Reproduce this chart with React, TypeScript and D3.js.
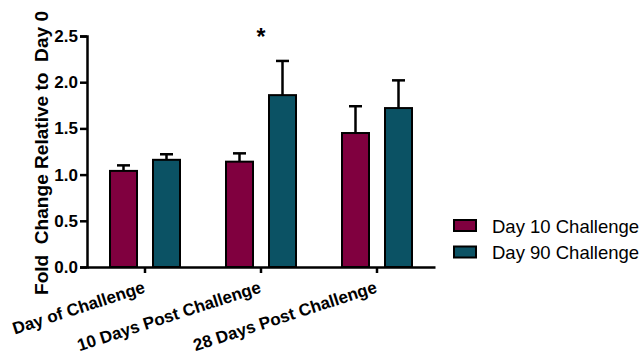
import { axisBottom, axisLeft, scaleBand, scaleLinear, select } from 'd3';
import { useEffect, useRef } from 'react';

const categories = ['Day of Challenge', '10 Days Post Challenge', '28 Days Post Challenge'];
const seriesNames = ['Day 10 Challenge', 'Day 90 Challenge'];
const day10Means = [1.04, 1.14, 1.45];
const day10Err = [0.06, 0.09, 0.29];
const day90Means = [1.16, 1.86, 1.72];
const day90Err = [0.06, 0.37, 0.3];
const yTicks = [0, 0.5, 1.0, 1.5, 2.0, 2.5];
const significant = [false, true, false];

const colors = ['#80003f', '#0b5264'];

function App(): JSX.Element {
  const svgRef = useRef<SVGSVGElement | null>(null);

  const width = 642;
  const height = 360;
  const margin = { top: 36, right: 207, bottom: 93, left: 87 };

  useEffect(() => {
    if (svgRef.current) svgRef.current.innerHTML = '';
    const svg = select(svgRef.current);
    const font = '"Liberation Sans", Arial, sans-serif';

    const x = scaleBand<string>()
      .domain(categories)
      .range([margin.left, width - margin.right]);
    const y = scaleLinear()
      .domain([0, 2.5])
      .range([height - margin.bottom, margin.top]);

    const barW = 27;
    const offsets = [-21.5, 21.5];
    const means = [day10Means, day90Means];
    const errs = [day10Err, day90Err];

    // bars + error bars
    for (let s = 0; s < 2; s++) {
      categories.forEach((c, i) => {
        const cx = (x(c) as number) + x.bandwidth() / 2 + offsets[s];
        const top = y(means[s][i]);
        const errTop = y(means[s][i] + errs[s][i]);
        svg
          .append('line')
          .attr('x1', cx)
          .attr('x2', cx)
          .attr('y1', top)
          .attr('y2', errTop)
          .attr('stroke', 'black')
          .attr('stroke-width', 2.5);
        svg
          .append('line')
          .attr('x1', cx - 6.5)
          .attr('x2', cx + 6.5)
          .attr('y1', errTop)
          .attr('y2', errTop)
          .attr('stroke', 'black')
          .attr('stroke-width', 2.5);
        svg
          .append('rect')
          .attr('x', cx - barW / 2)
          .attr('y', top)
          .attr('width', barW)
          .attr('height', y(0) - top)
          .attr('fill', colors[s])
          .attr('stroke', 'black')
          .attr('stroke-width', 2);
      });
    }

    // significance
    categories.forEach((c, i) => {
      if (!significant[i]) return;
      svg
        .append('text')
        .attr('x', (x(c) as number) + x.bandwidth() / 2)
        .attr('y', 45)
        .attr('text-anchor', 'middle')
        .attr('font-family', font)
        .attr('font-weight', 'bold')
        .attr('font-size', '23px')
        .text('*');
    });

    // y axis
    const gy = svg
      .append('g')
      .attr('transform', `translate(${margin.left},0)`)
      .call(
        axisLeft(y)
          .tickValues(yTicks)
          .tickSize(7)
          .tickPadding(2)
          .tickFormat((d) => Number(d).toFixed(1))
      );
    gy.select('.domain').attr('stroke-width', 2.5);
    gy.selectAll('.tick line').attr('stroke-width', 2.5);
    gy.selectAll('text')
      .attr('font-family', font)
      .attr('font-weight', 'bold')
      .attr('font-size', '17px')
      .attr('fill', 'black');

    // x axis
    const gx = svg
      .append('g')
      .attr('transform', `translate(0,${y(0)})`)
      .call(axisBottom(x).tickSize(6).tickSizeOuter(0));
    gx.select('.domain').attr('stroke-width', 2.5);
    gx.selectAll('.tick line').attr('stroke-width', 2.5);
    gx.selectAll('text').remove();

    categories.forEach((c) => {
      const tx = (x(c) as number) + x.bandwidth() / 2;
      svg
        .append('text')
        .attr('transform', `translate(${tx + 1},${y(0) + 25}) rotate(-18)`)
        .attr('text-anchor', 'end')
        .attr('font-family', font)
        .attr('font-weight', 'bold')
        .attr('font-size', '17px')
        .attr('fill', 'black')
        .text(c);
    });

    // y title
    svg
      .append('text')
      .attr('transform', 'translate(48,153) rotate(-90)')
      .attr('text-anchor', 'middle')
      .attr('font-family', font)
      .attr('font-weight', 'bold')
      .attr('font-size', '18px')
      .attr('fill', 'black')
      .attr('textLength', 284)
      .attr('lengthAdjust', 'spacingAndGlyphs')
      .attr('xml:space', 'preserve')
      .style('white-space', 'pre')
      .text('Fold  Change Relative to  Day 0');

    // legend
    seriesNames.forEach((n, i) => {
      const ly = 220 + i * 26.5;
      svg
        .append('rect')
        .attr('x', 454)
        .attr('y', ly)
        .attr('width', 22)
        .attr('height', 11)
        .attr('fill', colors[i])
        .attr('stroke', 'black')
        .attr('stroke-width', 2);
      svg
        .append('text')
        .attr('x', 492)
        .attr('y', ly + 12.5)
        .attr('font-family', font)
        .attr('font-size', '18.5px')
        .attr('fill', 'black')
        .text(n);
    });
  }, []);

  return (
    <div style={{ position: 'absolute', left: 0, top: 0 }}>
      <svg ref={svgRef} width={width} height={height} style={{ display: 'block', background: 'white' }} />
    </div>
  );
}

export default App;
